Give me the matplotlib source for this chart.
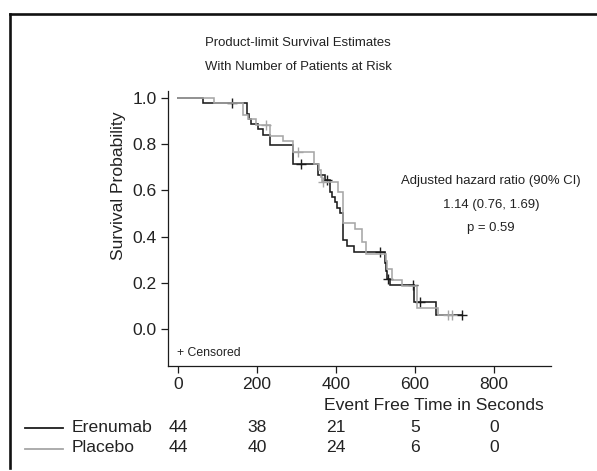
import numpy as np
import matplotlib
matplotlib.use("Agg")
import matplotlib.pyplot as plt
import matplotlib.font_manager as fm
from matplotlib.lines import Line2D
from matplotlib.transforms import blended_transform_factory

# ---------------- data ----------------
ere_times = [0, 64, 176, 181, 186, 203, 216, 233, 292, 355, 372, 385, 389, 397, 403,
             410, 417, 428, 445, 524, 527, 529, 537, 598, 653]
ere_surv = [1.0, 0.977, 0.932, 0.909, 0.886, 0.864, 0.841, 0.795, 0.714, 0.667, 0.643,
            0.595, 0.571, 0.548, 0.524, 0.500, 0.384, 0.360, 0.333, 0.286, 0.250,
            0.218, 0.190, 0.119, 0.060]
ere_end = 720
ere_censor = [136, 311, 378, 511, 532, 595, 613, 720]

pla_times = [0, 92, 165, 178, 197, 233, 267, 292, 345, 358, 361, 364, 406, 417, 448,
             467, 476, 526, 530, 541, 566, 606, 659]
pla_surv = [1.0, 0.977, 0.926, 0.909, 0.883, 0.835, 0.814, 0.767, 0.716, 0.690, 0.660,
            0.635, 0.594, 0.457, 0.432, 0.378, 0.325, 0.293, 0.260, 0.211, 0.185,
            0.092, 0.060]
pla_end = 697
pla_censor = [222, 305, 368, 684, 693]

groups = ["Erenumab", "Placebo"]
risk_times = [0, 200, 400, 600, 800]
risk_ere = [44, 38, 21, 5, 0]
risk_pla = [44, 40, 24, 6, 0]

xticks = [0, 200, 400, 600, 800]
yticks = [0.0, 0.2, 0.4, 0.6, 0.8, 1.0]

title_lines = ["Product-limit Survival Estimates", "With Number of Patients at Risk"]
hr_text = ["Adjusted hazard ratio (90% CI)", "1.14 (0.76, 1.69)", "p = 0.59"]

# ---------------- style ----------------
avail = {f.name for f in fm.fontManager.ttflist}
narrow = "Liberation Sans Narrow" in avail
fam = "Liberation Sans Narrow" if narrow else "Liberation Sans"
k = 1.0 if narrow else 0.84
plt.rcParams["font.family"] = [fam, "DejaVu Sans"]

BLACK = "#1c1c1c"
GRAY = "#a6a6a6"
TXT = "#222222"

W, H = 597, 471
fig = plt.figure(figsize=(W / 100, H / 100), dpi=100)

def fx(px):
    return px / W

def fy(py):
    return 1 - py / H

ax = fig.add_axes([fx(168), fy(366), fx(551) - fx(168), fy(91) - fy(366)])
ax.set_xlim(-25, 944)
ax.set_ylim(-0.16, 1.03)

def draw(times, surv, end, cens, color, z):
    t = list(times) + [end]
    s = list(surv) + [surv[-1]]
    ax.step(t, s, where="post", color=color, lw=1.15, zorder=z, solid_joinstyle="miter")
    ct = np.array(cens, dtype=float)
    idx = np.searchsorted(np.array(times), ct, side="right") - 1
    cs = np.array(surv)[idx]
    ax.plot(ct, cs, linestyle="none", marker="+", ms=7, mew=1.0, color=color, zorder=z)

draw(ere_times, ere_surv, ere_end, ere_censor, BLACK, 3)
draw(pla_times, pla_surv, pla_end, pla_censor, GRAY, 4)

for sp in ["top", "right"]:
    ax.spines[sp].set_visible(False)
for sp in ["left", "bottom"]:
    ax.spines[sp].set_color(BLACK)
    ax.spines[sp].set_linewidth(0.9)

ax.set_xticks(xticks)
ax.set_xticklabels([str(v) for v in xticks])
ax.set_yticks(yticks)
ax.set_yticklabels([f"{v:.1f}" for v in yticks])
ax.tick_params(axis="both", direction="out", length=5, width=0.9, color=BLACK,
               labelsize=15 * k, labelcolor=TXT)
ax.tick_params(axis="x", pad=3)
ax.tick_params(axis="y", pad=3)

fig.text(fx(118), fy(186), "Survival Probability", rotation=90, ha="center", va="center",
         fontsize=15 * k, color=TXT)

fig.text(fx(177), fy(353), "+ Censored", fontsize=10.5 * k, color=TXT,
         va="center", ha="left")

for s, y in zip(title_lines, [43, 67]):
    fig.text(fx(298), fy(y), s, ha="center", va="center", fontsize=11.3 * k, color=TXT)

for s, y in zip(hr_text, [181, 205, 228]):
    fig.text(fx(491), fy(y), s, ha="center", va="center", fontsize=11.3 * k, color=TXT)

fig.text(fx(434), fy(405), "Event Free Time in Seconds", ha="center", va="center",
         fontsize=15 * k, color=TXT)

# risk table
tr = blended_transform_factory(ax.transData, fig.transFigure)
for name, counts, color, y in [(groups[0], risk_ere, BLACK, 427), (groups[1], risk_pla, GRAY, 448)]:
    fig.add_artist(Line2D([fx(25), fx(63)], [fy(y + 1), fy(y + 1)], color=color, lw=1.3,
                          transform=fig.transFigure))
    fig.text(fx(72), fy(y), name, ha="left", va="center", fontsize=15 * k, color=TXT)
    for t, c in zip(risk_times, counts):
        fig.text(t, fy(y), str(c), transform=tr, ha="center", va="center",
                 fontsize=15 * k, color=TXT)

# frame lines (top and left)
fig.add_artist(Line2D([fx(10), 1.0], [fy(14), fy(14)], color="#111111", lw=1.9,
                      transform=fig.transFigure))
fig.add_artist(Line2D([fx(10), fx(10)], [fy(14), fy(468)], color="#111111", lw=1.9,
                      transform=fig.transFigure))

fig.savefig("out.png", dpi=100)
